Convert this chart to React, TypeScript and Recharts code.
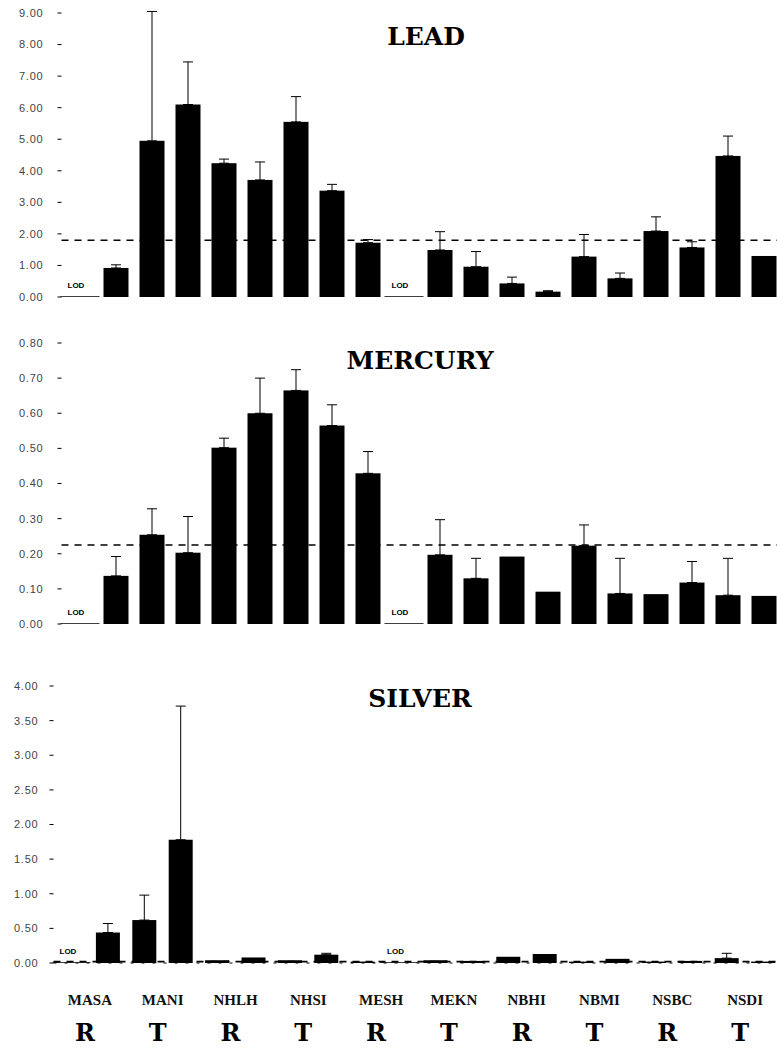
import React from 'react';
import { BarChart, Bar, XAxis, YAxis, ErrorBar, ReferenceLine } from 'recharts';

// sampling sites, two bars each; R / T class shown under the site name
const sites = ['MASA', 'MANI', 'NHLH', 'NHSI', 'MESH', 'MEKN', 'NBHI', 'NBMI', 'NSBC', 'NSDI'];
const siteClass = ['R', 'T', 'R', 'T', 'R', 'T', 'R', 'T', 'R', 'T'];
// bars below detection limit (1st and 10th)
const lodBars = [0, 9];

const leadValues = [0, 0.92, 4.95, 6.1, 4.24, 3.71, 5.55, 3.37, 1.72, 0, 1.49, 0.96, 0.43, 0.17, 1.28, 0.59, 2.09, 1.57, 4.47, 1.3];
const leadErrors = [0, 0.1, 4.1, 1.35, 0.13, 0.57, 0.8, 0.2, 0.1, 0, 0.58, 0.48, 0.2, 0.03, 0.7, 0.17, 0.45, 0.18, 0.63, 0];
const leadTicks = [0, 1, 2, 3, 4, 5, 6, 7, 8, 9];
const leadGuide = 1.8;

const mercuryValues = [0, 0.137, 0.254, 0.203, 0.502, 0.6, 0.665, 0.565, 0.429, 0, 0.197, 0.13, 0.192, 0.092, 0.223, 0.087, 0.085, 0.118, 0.082, 0.08];
const mercuryErrors = [0, 0.055, 0.074, 0.103, 0.027, 0.1, 0.059, 0.059, 0.062, 0, 0.1, 0.057, 0, 0, 0.059, 0.1, 0, 0.06, 0.105, 0];
const mercuryTicks = [0, 0.1, 0.2, 0.3, 0.4, 0.5, 0.6, 0.7, 0.8];
const mercuryGuide = 0.225;

const silverValues = [0, 0.44, 0.62, 1.78, 0.04, 0.08, 0.04, 0.12, 0.02, 0, 0.04, 0.03, 0.09, 0.13, 0.02, 0.06, 0.02, 0.03, 0.07, 0.02];
const silverErrors = [0, 0.13, 0.36, 1.93, 0, 0, 0, 0.02, 0, 0, 0, 0, 0, 0, 0, 0, 0, 0, 0.07, 0];
const silverTicks = [0, 0.5, 1, 1.5, 2, 2.5, 3, 3.5, 4];
const silverGuide = 0.02;

const buildRows = (values: number[], errors: number[]) =>
  values.map((v, i) => ({
    key: `${sites[Math.floor(i / 2)]}-${(i % 2) + 1}`,
    site: sites[Math.floor(i / 2)],
    value: v,
    err: errors[i] ? [0, errors[i]] : undefined,
    lod: lodBars.includes(i),
  }));

const BarShape = (props: any) => {
  const { x, y, width, height, payload } = props;
  const h = Math.abs(height || 0);
  const base = y + h;
  if (payload.lod) {
    return (
      <g>
        <line x1={x - 7} x2={x + width + 7} y1={base} y2={base} stroke="#000" strokeWidth={1.5} />
        <text x={x} y={base - 9} fontSize={8} fontWeight="bold" fontFamily="Liberation Sans, Arial, sans-serif" fill="#000">
          LOD
        </text>
      </g>
    );
  }
  return <rect x={x} y={y} width={width} height={h} fill="#000" />;
};

const SiteTick = (props: any) => {
  const { x, y, payload } = props;
  const idx = sites.indexOf(payload.value);
  return (
    <g>
      <text x={x} y={y + 42} textAnchor="middle" fontSize={15} fontWeight="bold" fontFamily="Liberation Serif, serif" fill="#111">
        {payload.value}
      </text>
      <text x={x - 5} y={y + 78} textAnchor="middle" fontSize={24} fontWeight="bold" fontFamily="DejaVu Serif, serif" fill="#000">
        {siteClass[idx]}
      </text>
    </g>
  );
};

const titleStyle = (x: number, y: number): React.CSSProperties => ({
  position: 'absolute',
  left: x,
  top: y,
  transform: 'translate(-50%, -50%)',
  fontFamily: 'DejaVu Serif, serif',
  fontWeight: 'bold',
  fontSize: 25,
  lineHeight: 1,
  whiteSpace: 'nowrap',
  color: '#000',
});

type PanelProps = {
  rows: any[];
  ticks: number[];
  guide: number;
  top: number;
  height: number;
  marginTop: number;
  marginBottom: number;
  yWidth: number;
  tickMargin: number;
  barSize: number;
  showSites?: boolean;
};

const Panel = ({ rows, ticks, guide, top, height, marginTop, marginBottom, yWidth, tickMargin, barSize, showSites }: PanelProps) => (
  <div style={{ position: 'absolute', left: 0, top }}>
    <BarChart
      width={781.5}
      height={height}
      data={rows}
      margin={{ top: marginTop, right: 0, bottom: marginBottom, left: 0 }}
      barSize={barSize}
    >
      <XAxis
        dataKey="key"
        hide={showSites}
        tick={false}
        tickLine={false}
        height={0}
        axisLine={{ stroke: '#000', strokeDasharray: '3 8' }}
      />
      {showSites && (
        <XAxis
          xAxisId="site"
          dataKey="site"
          allowDuplicatedCategory={false}
          interval={0}
          tickSize={0}
          tickMargin={0}
          tickLine={false}
          height={87}
          axisLine={{ stroke: '#000', strokeDasharray: '3 8' }}
          tick={<SiteTick />}
        />
      )}
      <YAxis
        width={yWidth}
        domain={[ticks[0], ticks[ticks.length - 1]]}
        ticks={ticks}
        allowDataOverflow
        axisLine={false}
        tickSize={4}
        tickMargin={tickMargin}
        tickLine={{ stroke: '#000' }}
        tickFormatter={(v: number) => v.toFixed(2)}
        tick={{ fontSize: 11, fill: '#444', letterSpacing: 0.8, fontFamily: 'Liberation Sans, Arial, sans-serif' }}
      />
      <ReferenceLine y={guide} stroke="#000" strokeWidth={1.6} strokeDasharray="7 6" />
      <Bar dataKey="value" shape={<BarShape />} isAnimationActive={false}>
        <ErrorBar dataKey="err" width={5} stroke="#000" strokeWidth={1} direction="y" />
      </Bar>
    </BarChart>
  </div>
);

export default function App() {
  return (
    <div style={{ position: 'absolute', left: 0, top: 0, width: 777, height: 1050, overflow: 'hidden', background: '#fff' }}>
      <Panel
        rows={buildRows(leadValues, leadErrors)}
        ticks={leadTicks}
        guide={leadGuide}
        top={0}
        height={320}
        marginTop={13}
        marginBottom={23}
        yWidth={61.5}
        tickMargin={14}
        barSize={25}
      />
      <Panel
        rows={buildRows(mercuryValues, mercuryErrors)}
        ticks={mercuryTicks}
        guide={mercuryGuide}
        top={320}
        height={320}
        marginTop={23}
        marginBottom={16}
        yWidth={61.5}
        tickMargin={14}
        barSize={25}
      />
      <Panel
        rows={buildRows(silverValues, silverErrors)}
        ticks={silverTicks}
        guide={silverGuide}
        top={640}
        height={410}
        marginTop={46}
        marginBottom={0}
        yWidth={53.5}
        tickMargin={11}
        barSize={24}
        showSites
      />
      <div style={titleStyle(426, 36)}>LEAD</div>
      <div style={titleStyle(420, 360)}>MERCURY</div>
      <div style={titleStyle(420, 698)}>SILVER</div>
    </div>
  );
}
